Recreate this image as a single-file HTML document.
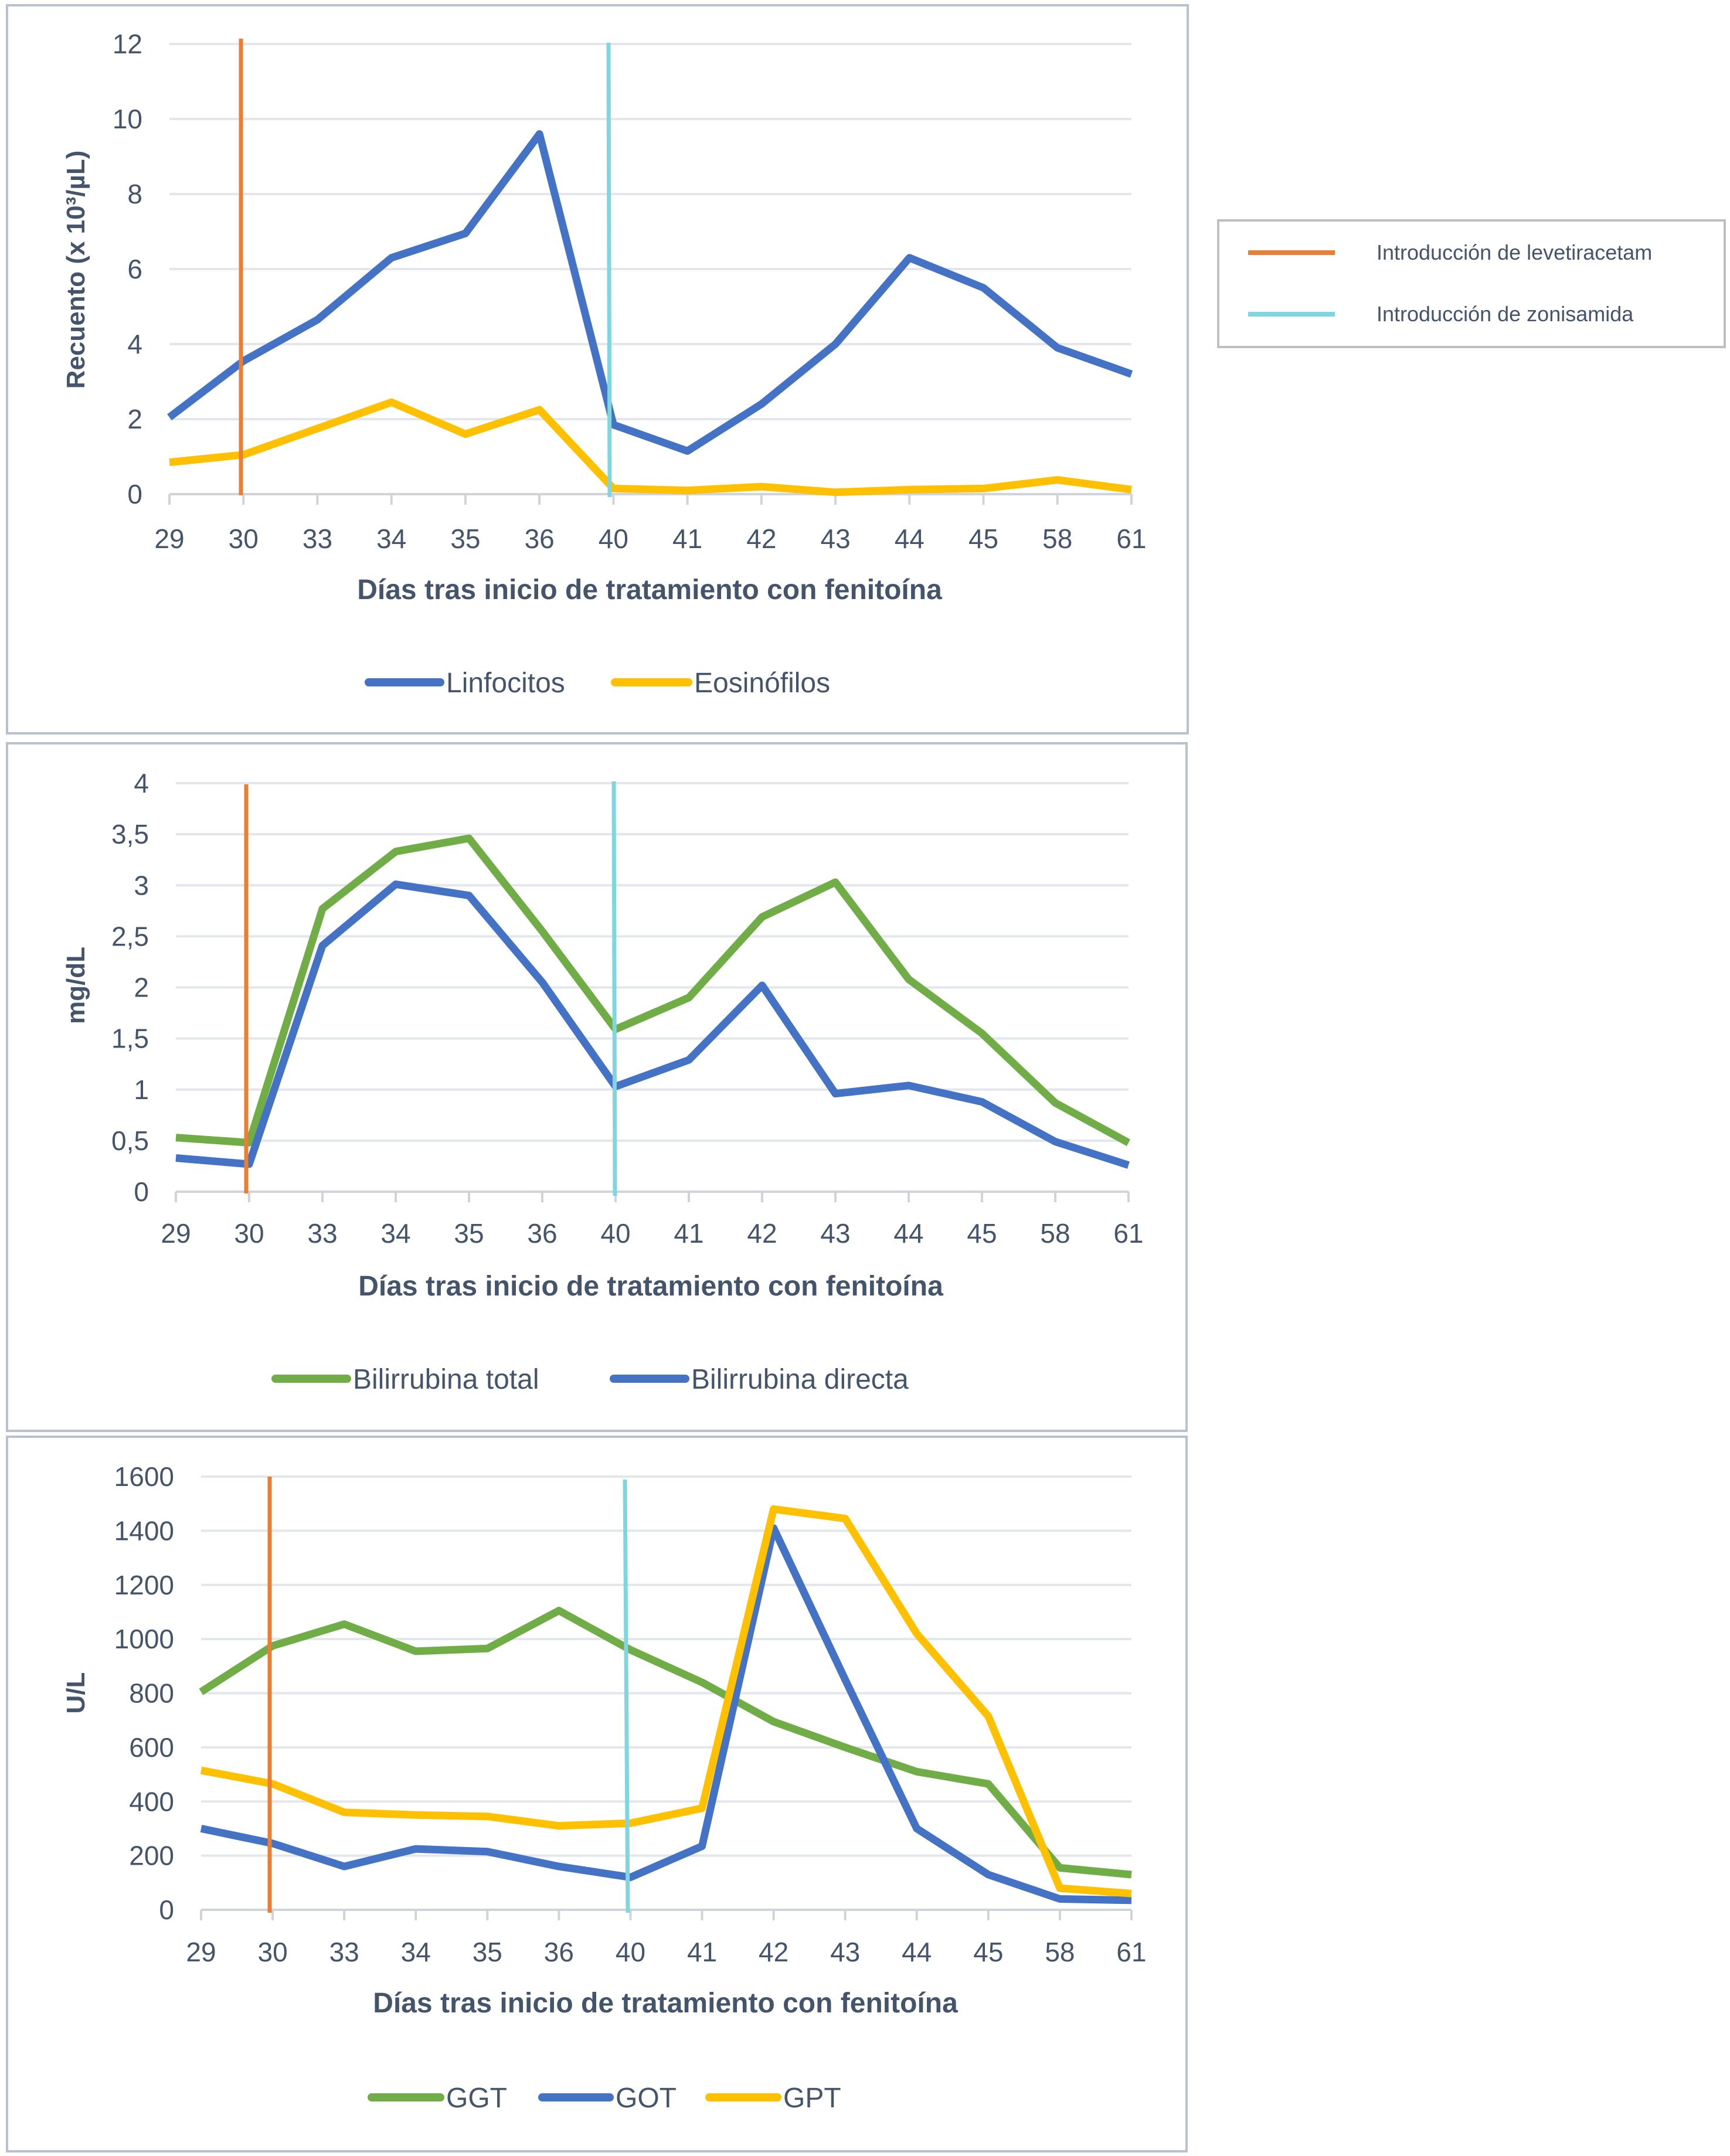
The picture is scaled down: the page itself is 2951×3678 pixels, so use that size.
<!DOCTYPE html>
<html><head><meta charset="utf-8">
<style>
html,body{margin:0;padding:0;background:#fff;}
svg{display:block;}
text{font-family:"Liberation Sans Narrow","Liberation Sans",sans-serif;fill:#44546A;}
</style></head>
<body>
<svg id="s" width="2951" height="3678" viewBox="0 0 2951 3678" xmlns="http://www.w3.org/2000/svg">
<rect x="12" y="9" width="2014" height="1242" fill="#fff" stroke="#B8C2CE" stroke-width="4"/>
<rect x="12" y="1268" width="2012" height="1173" fill="#fff" stroke="#B8C2CE" stroke-width="4"/>
<rect x="12" y="2451" width="2012" height="1219" fill="#fff" stroke="#B8C2CE" stroke-width="4"/>
<g>
<rect x="2078" y="376" width="864" height="216" fill="#fff" stroke="#BFBFBF" stroke-width="4"/>
<line x1="2129" y1="431" x2="2277" y2="431" stroke="#ED7D31" stroke-width="8"/>
<text x="2348" y="443" font-size="36" style="font-family:'Liberation Sans',sans-serif" fill="#000">Introducción de levetiracetam</text>
<line x1="2129" y1="536" x2="2277" y2="536" stroke="#7FD6E0" stroke-width="8"/>
<text x="2348" y="548" font-size="36" style="font-family:'Liberation Sans',sans-serif" fill="#000">Introducción de zonisamida</text>
</g>
</svg>
<script>
const categories=["29","30","33","34","35","36","40","41","42","43","44","45","58","61"];
const linfocitos=[2.05,3.55,4.65,6.3,6.95,9.6,1.85,1.15,2.4,4.0,6.3,5.5,3.9,3.2];
const eosinofilos=[0.85,1.05,1.75,2.45,1.6,2.25,0.15,0.1,0.2,0.05,0.12,0.15,0.38,0.12];
const biliTotal=[0.53,0.48,2.77,3.33,3.46,2.55,1.59,1.9,2.69,3.03,2.08,1.55,0.87,0.48];
const biliDirecta=[0.33,0.27,2.41,3.01,2.9,2.05,1.03,1.29,2.02,0.96,1.04,0.88,0.49,0.26];
const ggt=[805,975,1055,955,965,1105,960,840,695,600,510,465,155,130];
const got=[300,245,160,225,215,160,120,235,1410,850,300,130,40,35];
const gpt=[515,465,360,350,345,310,320,375,1480,1445,1020,715,80,60];
const ticks1=["0","2","4","6","8","10","12"];
const ticks2=["0","0,5","1","1,5","2","2,5","3","3,5","4"];
const ticks3=["0","200","400","600","800","1000","1200","1400","1600"];

const svg=document.getElementById('s');
const NS="http://www.w3.org/2000/svg";
function mk(tag,attrs,parent){const e=document.createElementNS(NS,tag);for(const k in attrs)e.setAttribute(k,attrs[k]);(parent||svg).appendChild(e);return e;}

function panel(o){
  const g=mk('g',{});
  
  
  const n=categories.length;
  const xs=i=>o.x0+(o.x1-o.x0)*i/(n-1);
  const ys=v=>o.y0-(o.y0-o.yTop)*v/o.max;
  o.ticks.forEach((t,i)=>{
    const v=o.max*i/(o.ticks.length-1);
    const y=ys(v);
    const gl=mk('line',{x1:o.x0,x2:o.x1,y1:y,y2:y,stroke:i===0?'#D0D4DA':'#E3E6EA','stroke-width':4},g);
    
    
    const tl=mk('text',{x:o.x0-46,y:y+16,'font-size':46,'text-anchor':'end'},g);
    tl.textContent=t;
    
    
  });
  categories.forEach((c,i)=>{
    const x=xs(i);
    const tk=mk('line',{x1:x,x2:x,y1:o.y0,y2:o.y0+18,stroke:'#D0D4DA','stroke-width':4},g);
    
    
    const tl=mk('text',{x:x,y:o.tickY+17,'font-size':46,'text-anchor':'middle'},g);
    tl.textContent=c;
    
    
  });
  o.series.forEach(s=>{
    const pts=s.data.map((v,i)=>xs(i).toFixed(1)+','+ys(v).toFixed(1)).join(' ');
    const pl=mk('polyline',{points:pts,fill:'none',stroke:s.color,'stroke-width':13,'stroke-linejoin':'round'},g);
    
    
  });
  const ol=mk('line',{x1:o.orange[0],x2:o.orange[0],y1:o.orange[1],y2:o.orange[2],stroke:'#ED7D31','stroke-width':7},g);
  
  
  const cl=mk('line',{x1:o.cyan[0],x2:o.cyan[3],y1:o.cyan[1],y2:o.cyan[2],stroke:'#7FD6E0','stroke-width':7},g);
  
  
  const xt=mk('text',{x:o.titleX,y:o.titleY+17,'font-size':48,'font-weight':'bold','text-anchor':'middle'},g);
  xt.textContent='Días tras inicio de tratamiento con fenitoína';
  
  
  const yt=mk('text',{x:0,y:0,'font-size':44,'font-weight':'bold','text-anchor':'middle',transform:`translate(${129+15},${o.yTitleY}) rotate(-90)`},g);
  yt.setAttribute('style',"font-family:'Liberation Sans',sans-serif");
  yt.textContent=o.yTitle;
  
  
  o.legend.forEach(l=>{
    const ll=mk('line',{x1:l[0],x2:l[1],y1:o.legY,y2:o.legY,stroke:l[3],'stroke-width':14,'stroke-linecap':'round'},g);
    
    
    const lt=mk('text',{x:l[1]+10,y:o.legY+17,'font-size':48},g);
    lt.textContent=l[2];
    
    
  });
}

panel({name:'leukocyte-chart',x0:289,x1:1930,y0:843,yTop:75,max:12,ticks:ticks1,tickY:918,
  series:[{key:'linfocitos',data:linfocitos,color:'#4472C4'},{key:'eosinofilos',data:eosinofilos,color:'#FFC000'}],
  orange:[411,66,845],cyan:[1038,73,848,1040],titleX:1108,titleY:1005,yTitle:'Recuento (x 10³/µL)',yTitleY:460,
  legY:1164,legend:[[629,751,'Linfocitos','#4472C4'],[1049,1174,'Eosinófilos','#FFC000']]});

panel({name:'bilirubin-chart',x0:300,x1:1925,y0:2033,yTop:1336,max:4,ticks:ticks2,tickY:2103,
  series:[{key:'bilirrubina-total',data:biliTotal,color:'#70AD47'},{key:'bilirrubina-directa',data:biliDirecta,color:'#4472C4'}],
  orange:[420,1338,2036],cyan:[1047,1333,2040,1049],titleX:1110,titleY:2193,yTitle:'mg/dL',yTitleY:1681,
  legY:2352,legend:[[470,592,'Bilirrubina total','#70AD47'],[1047,1169,'Bilirrubina directa','#4472C4']]});

panel({name:'liver-enzyme-chart',x0:343,x1:1930,y0:3258,yTop:2519,max:1600,ticks:ticks3,tickY:3329,
  series:[{key:'ggt',data:ggt,color:'#70AD47'},{key:'got',data:got,color:'#4472C4'},{key:'gpt',data:gpt,color:'#FFC000'}],
  orange:[460,2519,3263],cyan:[1066,2524,3263,1071],titleX:1135,titleY:3416,yTitle:'U/L',yTitleY:2888,
  legY:3578,legend:[[634,751,'GGT','#70AD47'],[925,1040,'GOT','#4472C4'],[1210,1326,'GPT','#FFC000']]});
</script>
</body></html>
